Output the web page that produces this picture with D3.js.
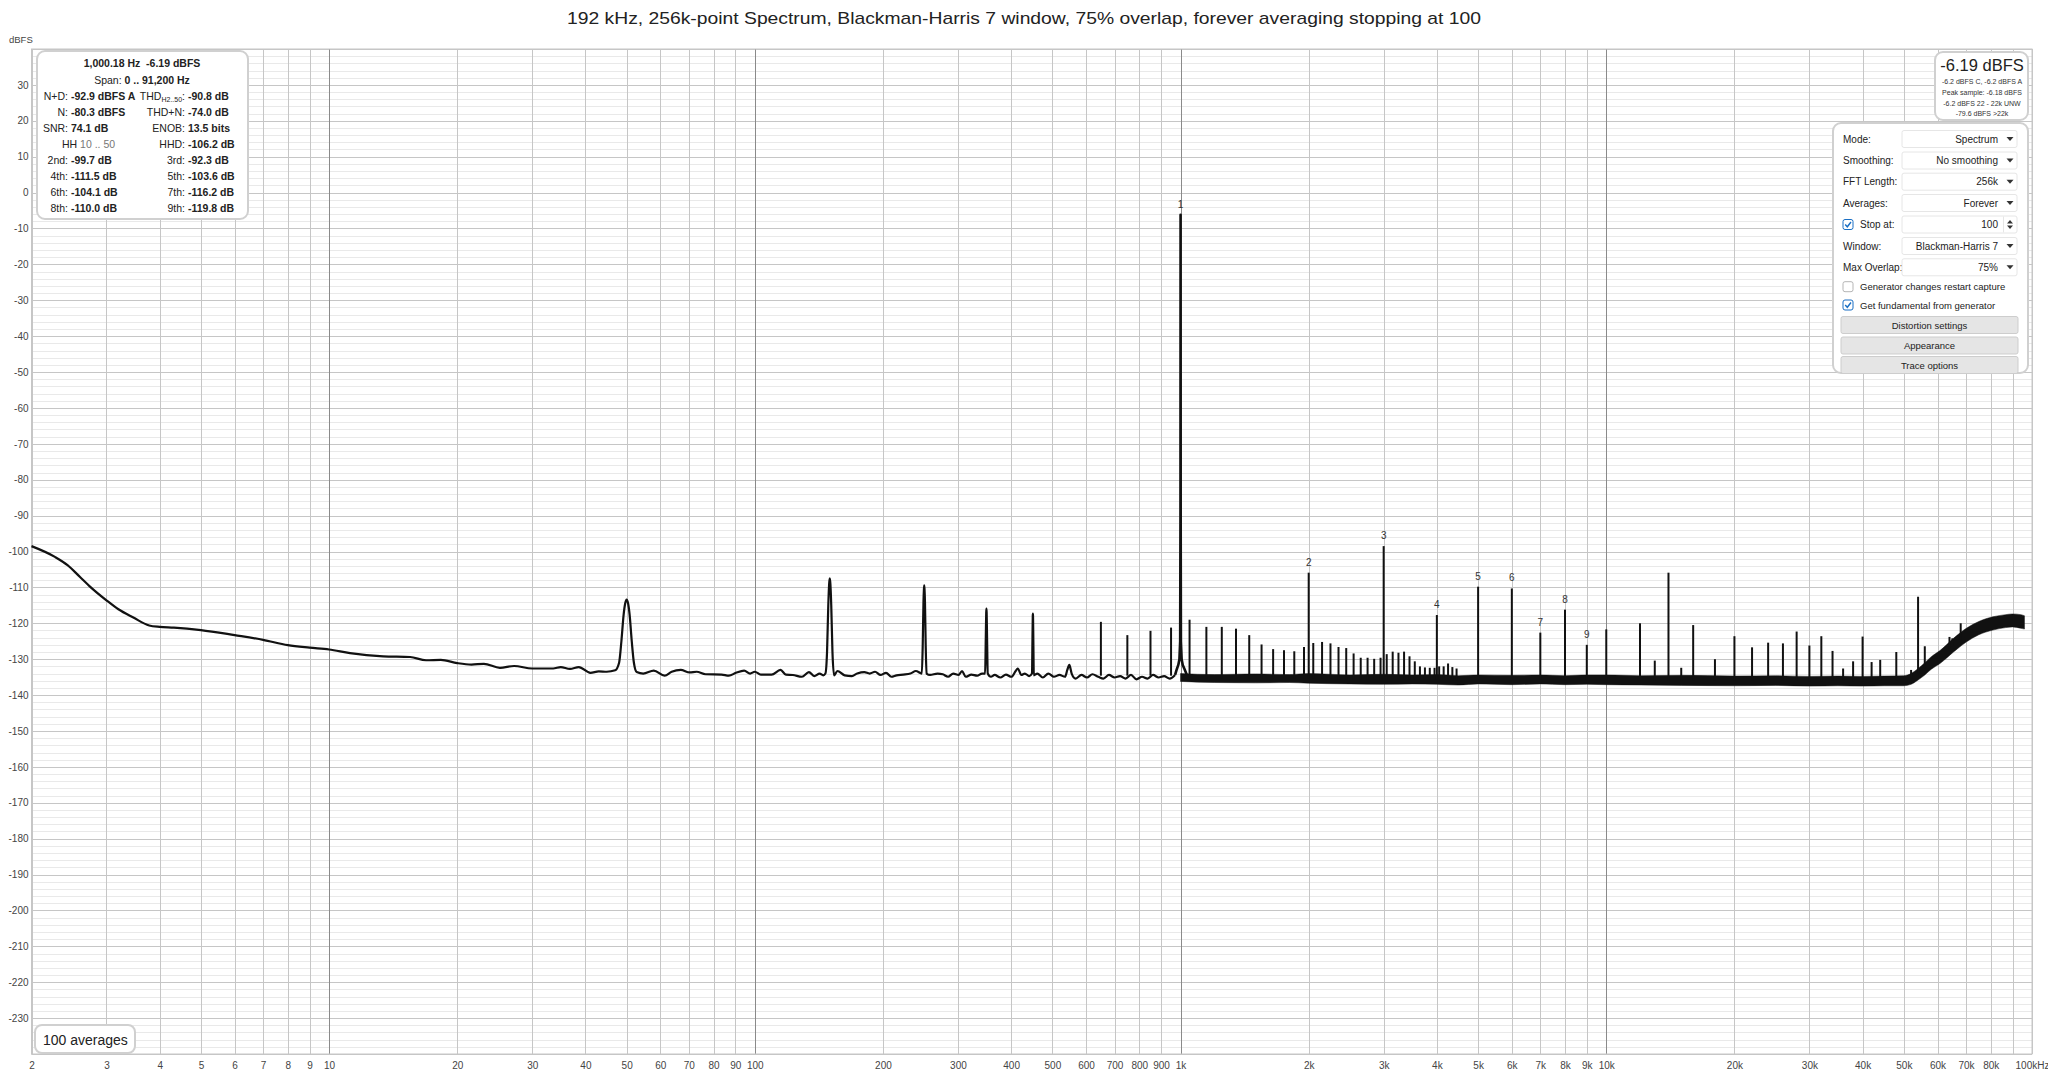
<!DOCTYPE html>
<html><head><meta charset="utf-8">
<script src="https://cdn.jsdelivr.net/npm/d3@7"></script>
<style>
body{margin:0;background:#fff;}
svg{display:block;font-family:"Liberation Sans",Arial,sans-serif;}
</style>
</head><body><svg id="c" width="2048" height="1073"></svg>
<script>
// ---------------- DATA ----------------
const chartTitle = "192 kHz, 256k-point Spectrum, Blackman-Harris 7 window, 75% overlap, forever averaging stopping at 100";

const yTickValues = [30,20,10,0,-10,-20,-30,-40,-50,-60,-70,-80,-90,-100,-110,-120,-130,-140,-150,-160,-170,-180,-190,-200,-210,-220,-230];

const xGridValues = [2,3,4,5,6,7,8,9,10,20,30,40,50,60,70,80,90,100,200,300,400,500,600,700,800,900,
  1000,2000,3000,4000,5000,6000,7000,8000,9000,10000,20000,30000,40000,50000,60000,70000,80000,90000,100000];
const xTickValues = [2,3,4,5,6,7,8,9,10,20,30,40,50,60,70,80,90,100,200,300,400,500,600,700,800,900,
  1000,2000,3000,4000,5000,6000,7000,8000,9000,10000,20000,30000,40000,50000,60000,70000,80000,100000];
const xTickLabels = ["2","3","4","5","6","7","8","9","10","20","30","40","50","60","70","80","90","100","200","300","400","500","600","700","800","900",
  "1k","2k","3k","4k","5k","6k","7k","8k","9k","10k","20k","30k","40k","50k","60k","70k","80k","100kHz"];

// low-frequency trace (Hz, dBFS)
const traceFreq = [2,2.27,2.43,2.6,2.74,3.0,3.2,3.47,3.78,4.0,4.32,5.0,6.0,7.0,8.0,9.0,10,11.2,13.4,15.5,16.9,18.3,20,21.6,23.1,25.2,27.2,30,33.6,35.0,36.8,38.6,41.1,43.0,44.9,47.0,
  48.0,48.6,49.2,49.6,50,50.4,50.8,51.4,52,52.8,
  54.7,57.9,61.4,63.8,67.0,70.3,73.0,76.6,83.6,86.9,90.3,94.4,97.5,100,103.3,109.5,114.9,118.3,122.9,129.0,134.0,137.9,142.0,144.8,
  146.5,147.8,148.8,149.5,150,150.5,151.2,152.2,153.5,
  156.3,162.6,169.0,174.0,180.8,186.1,191.6,197.4,203.4,209.3,215.2,223.3,232.0,239.0,
  246.8,248,249,249.6,250,250.4,251,252,253.2,
  258.0,268.7,276.4,284.4,292.5,301.0,306.8,312.8,322.6,332.8,341.9,
  347.5,348.8,349.6,350,350.4,351.2,352.5,
  358.6,365.9,377.2,388.9,400.6,410,414.6,422.7,430.8,441,
  447.8,449,449.7,450,450.3,451,452.2,
  460.9,474.8,489.2,504.2,519.6,535.5,542,548,555,567,585,603,621,641,659,679,700,721,743,765,788,812,837,862,888,915,943,971];
const traceLevel = [-98.5,-101.5,-103.8,-107.1,-109.7,-113.6,-116.1,-118.4,-120.6,-121.0,-121.2,-121.9,-123.3,-124.6,-126.1,-126.8,-127.3,-128.3,-129.2,-129.4,-130.3,-130.2,-131.1,-131.5,-131.3,-132.4,-131.9,-132.6,-132.6,-132.2,-132.7,-132.2,-133.8,-133.4,-133.5,-133.1,
  -131,-125,-117.5,-114.5,-113.4,-114.5,-117.5,-125,-131,-133.6,
  -134.0,-133.2,-134.6,-133.5,-133.0,-133.7,-133.5,-134.2,-134.3,-134.6,-133.8,-133.2,-134.0,-133.5,-134.3,-134.3,-133.0,-134.3,-134.4,-134.9,-133.6,-134.7,-134.0,-134.5,
  -134,-128,-115,-109,-107.5,-109,-115,-128,-134.5,
  -133.3,-134.5,-134.7,-134.0,-133.6,-134.0,-133.5,-134.4,-133.8,-134.9,-134.5,-134.3,-134.0,-133.3,
  -134,-126,-114,-110.5,-109.4,-110.5,-114,-126,-134,
  -134.4,-134.0,-134.2,-134.9,-134.0,-134.4,-133.3,-134.9,-134.3,-134.6,-134.0,
  -134,-124,-117,-115.9,-117,-124,-134,
  -134.9,-134.4,-135.1,-134.3,-134.9,-133.3,-132.6,-134.4,-134.0,-134.7,
  -134,-124,-118,-117.3,-118,-124,-134.5,
  -134.0,-135.1,-134.0,-134.9,-134.4,-134.9,-133.0,-131.6,-134.0,-135.4,-134.4,-135.1,-134.2,-134.9,-135.4,-134.4,-135.1,-134.7,-135.4,-134.4,-135.6,-134.9,-135.4,-134.4,-135.1,-134.7,-135.4,-134.4];

// fundamental (1 kHz)
const fundFreq  = [971,980,988,994,998,999.6,1000.18,1000.8,1002,1006,1012,1022,1035];
const fundLevel = [-134.4,-132.8,-131.6,-130.0,-125,-90,-6.19,-90,-125,-130.0,-131.6,-132.8,-134.4];

// noise band above 1 kHz (Hz, low dB, high dB)
const bandFreq = [1000,1200,1500,1800,2000,2500,3000,3500,4000,4500,5000,6000,7000,8000,9000,10000,12000,15000,20000,25000,30000,35000,40000,45000,50000,52000,54000,56000,58000,60800,65400,70100,75000,80900,86700,90000,94200,96000];
const bandLow  = [-136.2,-136.5,-136.6,-136.5,-136.7,-136.9,-137.0,-136.9,-137.0,-137.2,-136.9,-137.1,-136.9,-137.1,-137.0,-137.1,-137.2,-137.3,-137.4,-137.3,-137.5,-137.4,-137.5,-137.4,-137.4,-137.0,-135.8,-134.4,-132.8,-131.2,-128.0,-125.2,-123.2,-121.9,-121.2,-121.0,-121.4,-121.6];
const bandHigh = [-134.0,-134.3,-134.1,-134.3,-134.0,-134.4,-134.2,-134.4,-134.3,-134.6,-134.4,-134.5,-134.4,-134.6,-134.4,-134.4,-134.6,-134.5,-134.7,-134.6,-134.8,-134.7,-134.8,-134.7,-134.6,-134.0,-132.6,-131.0,-129.3,-127.6,-124.2,-121.4,-119.5,-118.2,-117.6,-117.4,-117.6,-117.9];

// discrete spurs / harmonics (Hz, dBFS)
const spikeFreq = [650,750,850,950,1050,1150,1250,1350,1450,1550,1650,1750,1850,1950,2000,2050,2150,2250,2350,2450,2550,2650,2750,2850,2950,3000,3050,3150,3250,3350,3450,3550,3650,3750,3850,3950,4000,4050,4150,4250,4350,4450,5000,6000,7000,8000,9000,10000,12000,13000,14000,15000,16000,18000,20000,22000,24000,26000,28000,30000,32000,34000,36000,38000,40000,42000,44000,48000,52000,54000,56000,64000,65000,68000,72000];
const spikeLevel = [-119.6,-123.3,-122.1,-121.2,-119.0,-121.0,-121.0,-121.5,-123.3,-125.9,-127.2,-127.5,-127.8,-126.6,-105.9,-125.5,-125.2,-125.6,-126.6,-126.9,-128.4,-129.6,-129.6,-129.9,-129.6,-98.5,-128.6,-127.9,-128.2,-127.9,-129.2,-130.6,-132.0,-132.3,-132.4,-132.4,-117.7,-132.0,-132.0,-131.2,-132.2,-132.6,-109.8,-110.3,-122.6,-116.2,-126.0,-121.7,-120.0,-130.4,-105.9,-132.4,-120.5,-130.0,-123.6,-126.7,-125.4,-125.6,-122.3,-126.2,-123.6,-127.7,-132.6,-130.6,-123.7,-130.8,-130.2,-128.0,-133.0,-112.6,-126.4,-123.8,-124.2,-120.0,-121.8];

// harmonic markers
const harmNames = ["1","2","3","4","5","6","7","8","9"];
const harmFreq  = [1000.18,2000,3000,4000,5000,6000,7000,8000,9000];
const harmLevel = [-6.19,-105.9,-98.5,-117.7,-109.8,-110.3,-122.6,-116.2,-126.0];

// info panel rows: [leftLabel, leftValue, rightLabel, rightValue]
const infoRows = [
  ["N+D:","-92.9 dBFS A","THD|H2..50|:","-90.8 dB"],
  ["N:","-80.3 dBFS","THD+N:","-74.0 dB"],
  ["SNR:","74.1 dB","ENOB:","13.5 bits"],
  ["HH","10 .. 50","HHD:","-106.2 dB"],
  ["2nd:","-99.7 dB","3rd:","-92.3 dB"],
  ["4th:","-111.5 dB","5th:","-103.6 dB"],
  ["6th:","-104.1 dB","7th:","-116.2 dB"],
  ["8th:","-110.0 dB","9th:","-119.8 dB"]
];
const levelLines = ["-6.2 dBFS C, -6.2 dBFS A","Peak sample: -6.18 dBFS","-6.2 dBFS 22 - 22k UNW","-79.6 dBFS >22k"];
const settingLabels = ["Mode:","Smoothing:","FFT Length:","Averages:","Stop at:","Window:","Max Overlap:"];
const settingValues = ["Spectrum","No smoothing","256k","Forever","100","Blackman-Harris 7","75%"];
const checkLabels = ["Generator changes restart capture","Get fundamental from generator"];
const checkStates = [false,true];
const buttonLabels = ["Distortion settings","Appearance","Trace options"];

// ---------------- DRAW ----------------
const svg = d3.select("#c");
const L = 31.5, R = 2032, T = 49, B = 1054;
const x = d3.scaleLog().domain([2, 100000]).range([L, R]);
const y = d3.scaleLinear().domain([-240, 40]).range([B, T]);

// title
svg.append("text").attr("x", 567).attr("y", 24).attr("font-size", 17).attr("fill", "#222")
  .attr("textLength", 914).attr("lengthAdjust", "spacingAndGlyphs").text(chartTitle);

// grid
const g = svg.append("g");
g.selectAll("line.hmin").data(d3.range(-240, 41, 2)).join("line")
  .attr("x1", L).attr("x2", R).attr("y1", d => Math.round(y(d)) + 0.5).attr("y2", d => Math.round(y(d)) + 0.5)
  .attr("stroke", d => d % 10 === 0 ? "#c6c6c6" : "#e9e9e9").attr("stroke-width", 1);
g.selectAll("line.v").data(xGridValues).join("line")
  .attr("y1", T).attr("y2", B).attr("x1", d => Math.round(x(d)) + 0.5).attr("x2", d => Math.round(x(d)) + 0.5)
  .attr("stroke", d => [10,100,1000,10000].includes(d) ? "#8a8a8a" : "#c6c6c6").attr("stroke-width", 1);
g.append("rect").attr("x", L).attr("y", T).attr("width", R - L).attr("height", B - T)
  .attr("fill", "none").attr("stroke", "#c6c6c6");

// axes labels
const yAxis = d3.axisLeft(y).tickValues(yTickValues).tickSize(0).tickPadding(3).tickFormat(d => d);
const ya = svg.append("g").attr("transform", `translate(${L},0)`).call(yAxis);
ya.select(".domain").remove();
ya.selectAll("text").attr("font-size", 10).attr("fill", "#444").attr("font-family", "Liberation Sans, Arial, sans-serif");
svg.append("text").attr("x", 9).attr("y", 43).attr("font-size", 9.5).attr("fill", "#444").text("dBFS");

const xAxis = d3.axisBottom(x).tickValues(xTickValues).tickSize(0).tickPadding(8)
  .tickFormat((d, i) => xTickLabels[i]);
const xa = svg.append("g").attr("transform", `translate(0,${B})`).call(xAxis);
xa.select(".domain").remove();
xa.selectAll("text").attr("font-size", 10).attr("fill", "#444").attr("font-family", "Liberation Sans, Arial, sans-serif");

// noise band
const band = bandFreq.map((f, i) => ({f, lo: bandLow[i], hi: bandHigh[i]}));
svg.append("path").datum(band)
  .attr("d", d3.area().x(d => x(d.f)).y0(d => y(d.lo)).y1(d => y(d.hi)).curve(d3.curveMonotoneX))
  .attr("fill", "#111").attr("stroke", "#111").attr("stroke-width", 0.5);

// spurs (base anchored inside the noise band)
const bandMid = d3.scaleLog().domain(bandFreq).range(bandFreq.map((f, i) => (bandLow[i] + bandHigh[i]) / 2)).clamp(true);
const spikes = spikeFreq.map((f, i) => ({f, v: spikeLevel[i]}));
svg.append("g").selectAll("line").data(spikes).join("line")
  .attr("x1", d => x(d.f)).attr("x2", d => x(d.f))
  .attr("y1", d => y(d.f < 1000 ? -134.6 : bandMid(d.f))).attr("y2", d => y(d.v))
  .attr("stroke", "#111").attr("stroke-width", 2);

// low trace
const trace = traceFreq.map((f, i) => ({f, v: traceLevel[i]}));
const line = d3.line().x(d => x(d.f)).y(d => y(d.v)).curve(d3.curveMonotoneX);
svg.append("path").datum(trace).attr("d", line).attr("fill", "none")
  .attr("stroke", "#111").attr("stroke-width", 2.2).attr("stroke-linejoin", "round");

// fundamental
const fund = fundFreq.map((f, i) => ({f, v: fundLevel[i]}));
svg.append("path").datum(fund).attr("d", d3.line().x(d => x(d.f)).y(d => y(d.v)))
  .attr("fill", "none").attr("stroke", "#111").attr("stroke-width", 2.6).attr("stroke-linejoin", "round");

// harmonic labels
svg.append("g").selectAll("text").data(harmNames).join("text")
  .attr("x", (d, i) => x(harmFreq[i])).attr("y", (d, i) => y(harmLevel[i]) - 7)
  .attr("text-anchor", "middle").attr("font-size", 10).attr("fill", "#333").text(d => d);

// ---------- info panel ----------
const panelStroke = "#d0d0d0";
svg.append("rect").attr("x", 37).attr("y", 51).attr("width", 211).attr("height", 168).attr("rx", 8)
  .attr("fill", "#fff").attr("stroke", panelStroke).attr("stroke-width", 2);
const ip = svg.append("g").attr("font-size", 10.5).attr("fill", "#222");
ip.append("text").attr("x", 142).attr("y", 66.5).attr("text-anchor", "middle").attr("font-weight", "bold")
  .text("1,000.18 Hz  -6.19 dBFS").attr("xml:space", "preserve");
const span = ip.append("text").attr("x", 142).attr("y", 83.5).attr("text-anchor", "middle");
span.append("tspan").text("Span: ");
span.append("tspan").attr("font-weight", "bold").text("0 .. 91,200 Hz");
const rowY = [99.5, 115.5, 131.5, 147.5, 163.5, 179.5, 195.5, 211.5];
infoRows.forEach((r, i) => {
  const yy = rowY[i];
  if (r[0] === "HH") {
    const t = ip.append("text").attr("x", 62).attr("y", yy);
    t.append("tspan").text("HH ");
    t.append("tspan").attr("fill", "#777").text(r[1]);
  } else {
    ip.append("text").attr("x", 68).attr("y", yy).attr("text-anchor", "end").text(r[0]);
    ip.append("text").attr("x", 71).attr("y", yy).attr("font-weight", "bold").text(r[1]);
  }
  const parts = r[2].split("|");
  const rt = ip.append("text").attr("x", 185).attr("y", yy).attr("text-anchor", "end");
  if (parts.length === 3) {
    rt.append("tspan").text(parts[0]);
    rt.append("tspan").attr("font-size", 7).attr("dy", 2).text(parts[1]);
    rt.append("tspan").attr("dy", -2).text(parts[2]);
  } else rt.text(r[2]);
  ip.append("text").attr("x", 188).attr("y", yy).attr("font-weight", "bold").text(r[3]);
});

// ---------- level panel ----------
svg.append("rect").attr("x", 1935).attr("y", 52).attr("width", 93).attr("height", 68).attr("rx", 8)
  .attr("fill", "#fff").attr("stroke", panelStroke).attr("stroke-width", 2);
svg.append("text").attr("x", 1982).attr("y", 71).attr("text-anchor", "middle").attr("font-size", 16.5)
  .attr("fill", "#222").text("-6.19 dBFS");
svg.append("g").selectAll("text").data(levelLines).join("text")
  .attr("x", 1982).attr("y", (d, i) => 84 + i * 10.8).attr("text-anchor", "middle")
  .attr("font-size", 7).attr("fill", "#333").text(d => d);

// ---------- settings panel ----------
svg.append("rect").attr("x", 1833).attr("y", 123).attr("width", 195).attr("height", 250).attr("rx", 8)
  .attr("fill", "#fff").attr("stroke", panelStroke).attr("stroke-width", 2);
const sp = svg.append("g").attr("font-size", 10).attr("fill", "#222");
const rowC = [139, 160.5, 181.7, 203, 224.5, 246, 267.3];
function checkbox(cx, cy, checked) {
  sp.append("rect").attr("x", cx).attr("y", cy - 5).attr("width", 10).attr("height", 10).attr("rx", 2)
    .attr("fill", "#fff").attr("stroke", checked ? "#1a6fc4" : "#b5b5b5").attr("stroke-width", 1);
  if (checked) sp.append("path").attr("d", `M${cx+2.2},${cy} L${cx+4.3},${cy+2.3} L${cx+8},${cy-2.5}`)
    .attr("fill", "none").attr("stroke", "#1a6fc4").attr("stroke-width", 1.4);
}
settingLabels.forEach((lab, i) => {
  const cy = rowC[i];
  if (i === 4) { checkbox(1843, cy, true); sp.append("text").attr("x", 1860).attr("y", cy + 3.5).text(lab); }
  else sp.append("text").attr("x", 1843).attr("y", cy + 3.5).text(lab);
  sp.append("rect").attr("x", 1902).attr("y", cy - 8.5).attr("width", 115).attr("height", 17).attr("rx", 2)
    .attr("fill", "#fff").attr("stroke", "#e6e6e6");
  sp.append("text").attr("x", 1998).attr("y", cy + 3.5).attr("text-anchor", "end").text(settingValues[i]);
  if (i === 4) {
    sp.append("line").attr("x1", 2003.5).attr("x2", 2003.5).attr("y1", cy - 8).attr("y2", cy + 8).attr("stroke", "#e6e6e6");
    sp.append("path").attr("d", `M2007,${cy-1} L2010,${cy-4.5} L2013,${cy-1} Z M2007,${cy+1} L2010,${cy+4.5} L2013,${cy+1} Z`).attr("fill", "#333");
  } else {
    sp.append("path").attr("d", `M2006.5,${cy-2} L2013.5,${cy-2} L2010,${cy+2} Z`).attr("fill", "#333");
  }
});
[286.7, 305].forEach((cy, i) => {
  checkbox(1843, cy, checkStates[i]);
  sp.append("text").attr("x", 1860).attr("y", cy + 3.5).attr("font-size", 9.5).text(checkLabels[i]);
});
[325, 345.5, 365].forEach((cy, i) => {
  sp.append("rect").attr("x", 1841).attr("y", cy - 8.5).attr("width", 177).attr("height", 17).attr("rx", 2)
    .attr("fill", "#e5e5e5").attr("stroke", "#cdcdcd");
  sp.append("text").attr("x", 1929.5).attr("y", cy + 3.5).attr("text-anchor", "middle").attr("font-size", 9.5).text(buttonLabels[i]);
});

// ---------- averages box ----------
svg.append("rect").attr("x", 35).attr("y", 1025).attr("width", 100).attr("height", 28).attr("rx", 7)
  .attr("fill", "#fff").attr("stroke", panelStroke).attr("stroke-width", 2);
svg.append("text").attr("x", 43).attr("y", 1044.5).attr("font-size", 14).attr("fill", "#222").text("100 averages");
</script>
</body></html>
